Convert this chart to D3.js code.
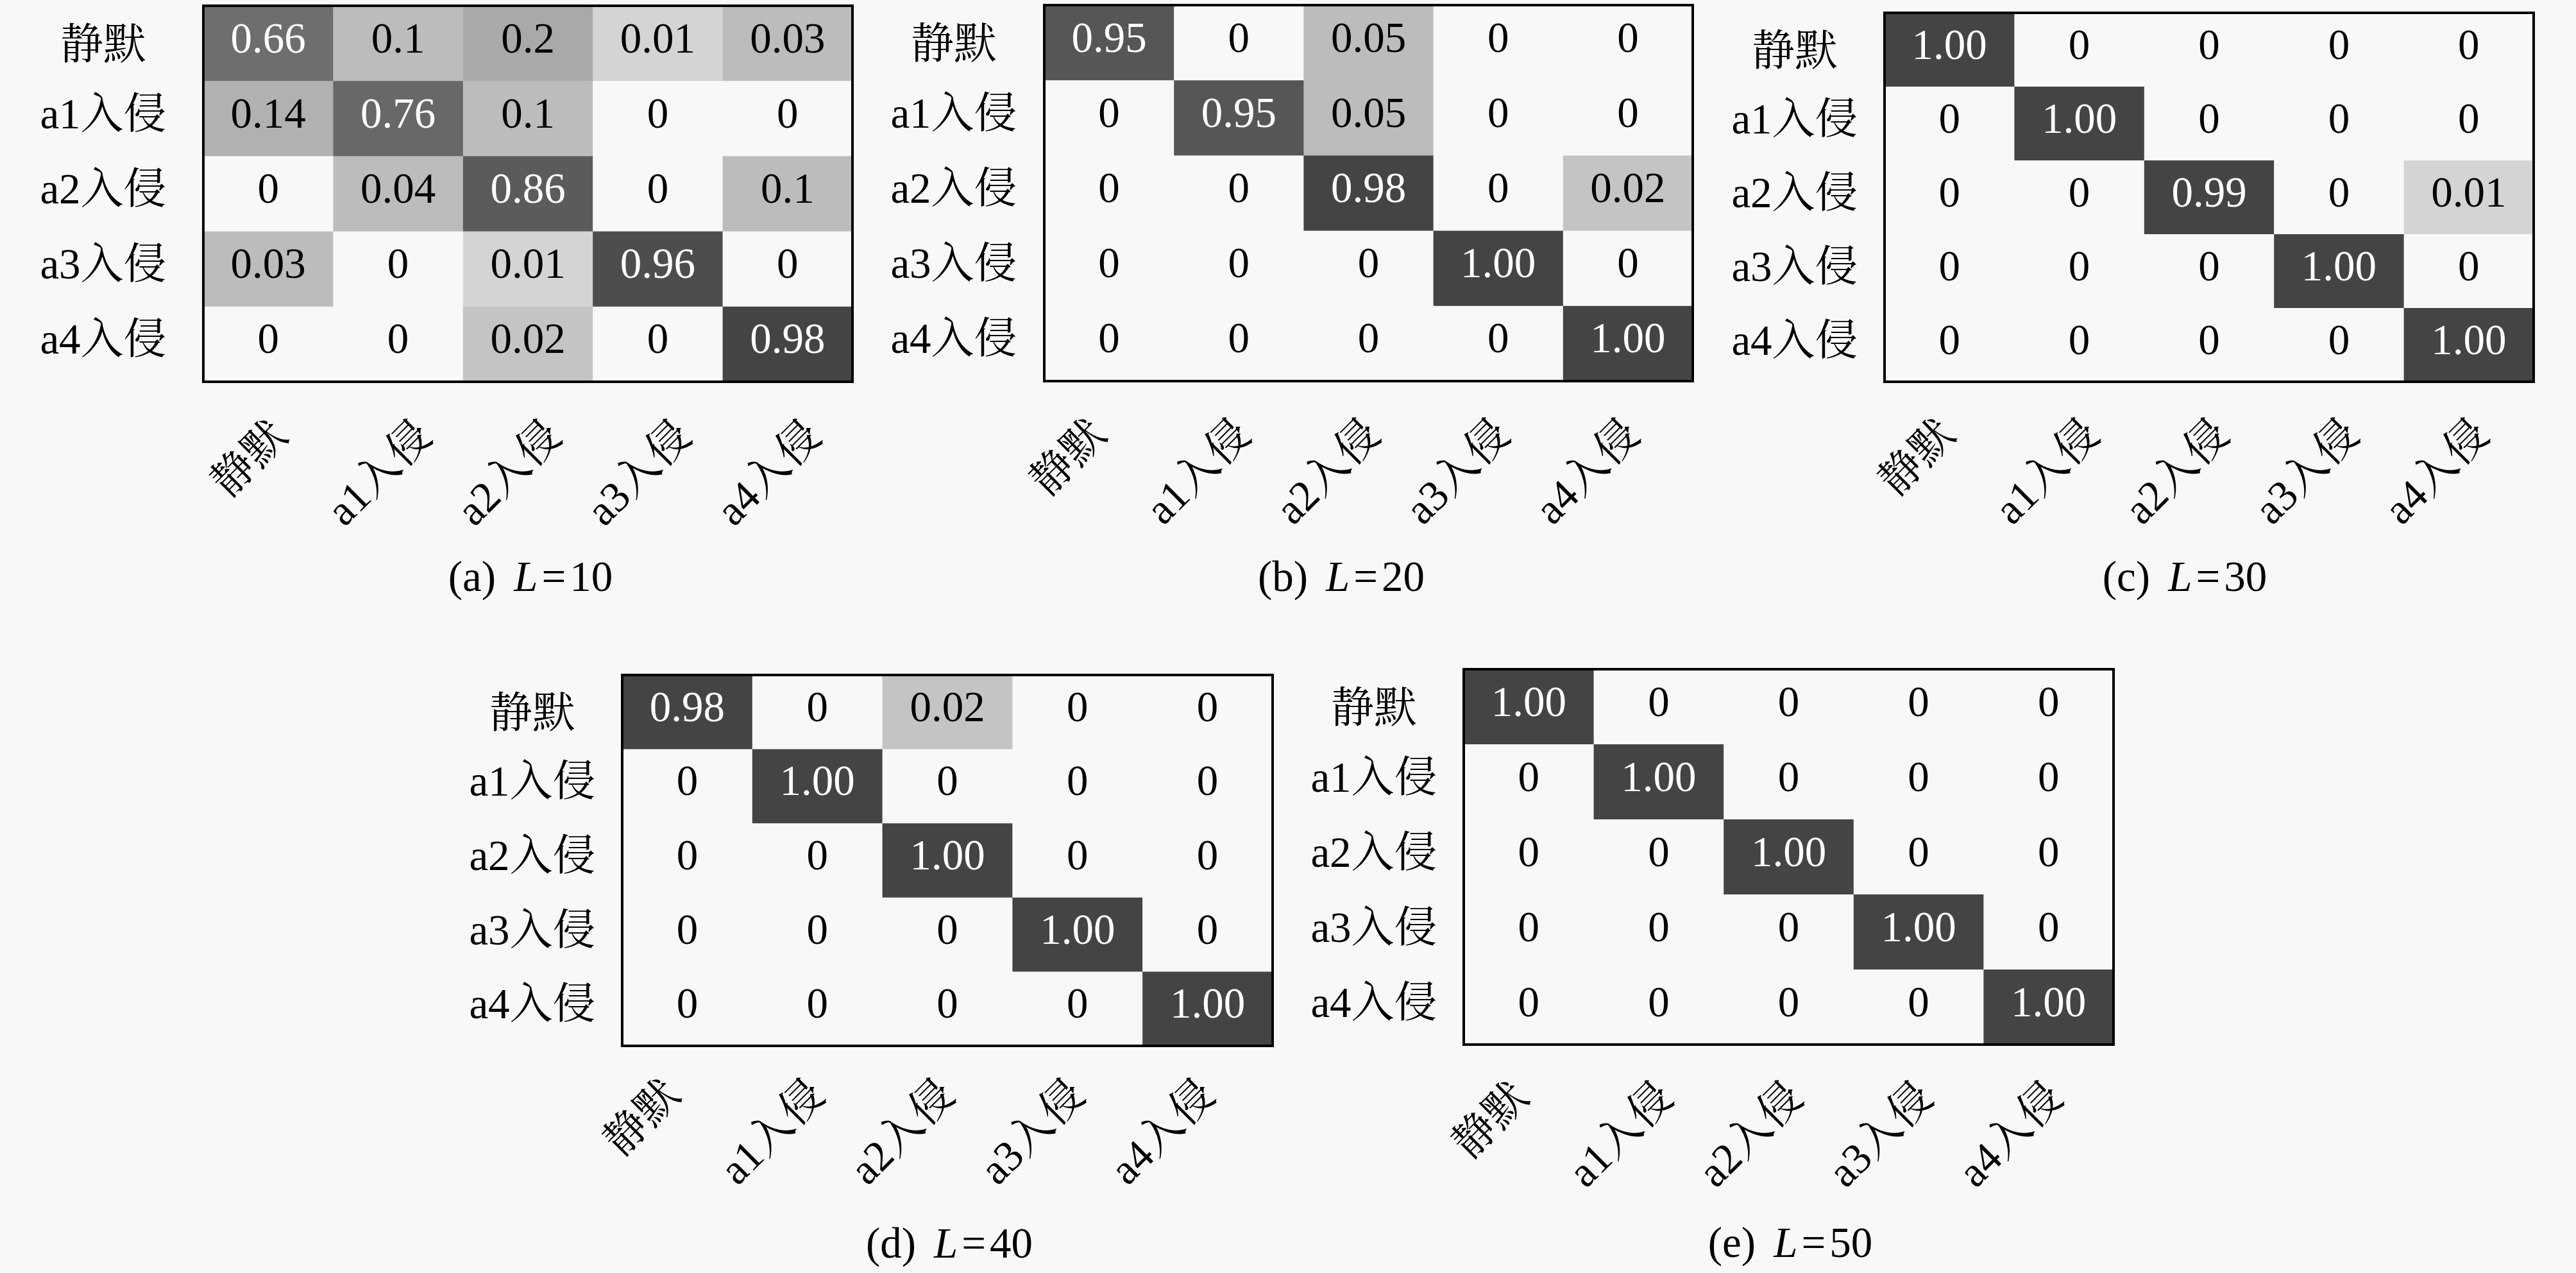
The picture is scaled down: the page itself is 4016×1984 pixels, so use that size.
<!DOCTYPE html>
<html>
<head>
<meta charset="utf-8">
<script src="https://cdn.jsdelivr.net/npm/d3@7/dist/d3.min.js"></script>
<style>
  html, body { margin: 0; padding: 0; background: #f8f8f8; }
  svg { display: block; }
</style>
</head>
<body>
<svg id="chart" width="4016" height="1984"></svg>
<script>
// ---------------- data ----------------
const classes = ["静默", "a1入侵", "a2入侵", "a3入侵", "a4入侵"];
const panelLetters = ["a", "b", "c", "d", "e"];
const panelL = [10, 20, 30, 40, 50];

const matL10 = [
  [0.66, 0.1, 0.2, 0.01, 0.03],
  [0.14, 0.76, 0.1, 0, 0],
  [0, 0.04, 0.86, 0, 0.1],
  [0.03, 0, 0.01, 0.96, 0],
  [0, 0, 0.02, 0, 0.98]
];
const matL20 = [
  [0.95, 0, 0.05, 0, 0],
  [0, 0.95, 0.05, 0, 0],
  [0, 0, 0.98, 0, 0.02],
  [0, 0, 0, 1.00, 0],
  [0, 0, 0, 0, 1.00]
];
const matL30 = [
  [1.00, 0, 0, 0, 0],
  [0, 1.00, 0, 0, 0],
  [0, 0, 0.99, 0, 0.01],
  [0, 0, 0, 1.00, 0],
  [0, 0, 0, 0, 1.00]
];
const matL40 = [
  [0.98, 0, 0.02, 0, 0],
  [0, 1.00, 0, 0, 0],
  [0, 0, 1.00, 0, 0],
  [0, 0, 0, 1.00, 0],
  [0, 0, 0, 0, 1.00]
];
const matL50 = [
  [1.00, 0, 0, 0, 0],
  [0, 1.00, 0, 0, 0],
  [0, 0, 1.00, 0, 0],
  [0, 0, 0, 1.00, 0],
  [0, 0, 0, 0, 1.00]
];
const matrices = [matL10, matL20, matL30, matL40, matL50];
// panel (a) prints trimmed decimals ("0.1"), the others fixed two decimals ("1.00")
const trimmedFormat = [true, false, false, false, false];

// ---------------- styles / layout ----------------
const shadeDomain = [0, 0.01, 0.02, 0.03, 0.1, 0.14, 0.2, 0.66, 0.76, 0.86, 0.95, 0.97, 1.0];
const shadeRange  = [248, 212, 196, 188, 188, 177, 169, 110, 104, 91, 86, 68, 68];
const gray = d3.scaleLinear().domain(shadeDomain).range(shadeRange).clamp(true);
const fillOf = v => { const g = Math.round(gray(v)); return `rgb(${g},${g},${g})`; };

const layout = [
  {x: 317,  y: 9,    w: 1012, h: 586, ylx: 161,  xOff: 56, xDy: 88, capX: 827,  capY: 921},
  {x: 1628, y: 8,    w: 1011, h: 586, ylx: 1487, xOff: 22, xDy: 87, capX: 2091, capY: 921},
  {x: 2938, y: 20,   w: 1012, h: 575, ylx: 2798, xOff: 35, xDy: 86, capX: 3406, capY: 921},
  {x: 970,  y: 1052, w: 1014, h: 578, ylx: 830,  xOff: 15, xDy: 80, capX: 1480, capY: 1960},
  {x: 2282, y: 1043, w: 1013, h: 585, ylx: 2142, xOff: 26, xDy: 86, capX: 2791, capY: 1959}
];

const FONT = "'Liberation Serif', 'Times New Roman', 'Noto Serif CJK SC', 'Noto Sans CJK SC', serif";
const FS = 67;
const hasLatin = s => /[A-Za-z0-9]/.test(s);

const svg = d3.select("#chart");
svg.append("rect").attr("width", 4016).attr("height", 1984).attr("fill", "#f8f8f8");

matrices.forEach((mat, p) => {
  const L = layout[p];
  const g = svg.append("g");
  const xs = d3.scaleBand().domain(classes).range([L.x, L.x + L.w]);
  const ys = d3.scaleBand().domain(classes).range([L.y, L.y + L.h]);
  const fmt = trimmedFormat[p] ? d3.format(".2~f") : d3.format(".2f");
  const label = v => v === 0 ? "0" : fmt(v);

  const cells = [];
  mat.forEach((row, i) => row.forEach((v, j) => cells.push({r: classes[i], c: classes[j], v})));

  g.selectAll("rect.cell").data(cells).join("rect")
    .attr("class", "cell")
    .attr("x", d => xs(d.c))
    .attr("y", d => ys(d.r))
    .attr("width", xs.bandwidth() + 0.5)
    .attr("height", ys.bandwidth() + 0.5)
    .attr("fill", d => fillOf(d.v));

  g.selectAll("text.val").data(cells).join("text")
    .attr("class", "val")
    .attr("x", d => xs(d.c) + xs.bandwidth() / 2)
    .attr("y", d => ys(d.r) + ys.bandwidth() / 2 + 14)
    .attr("text-anchor", "middle")
    .attr("font-family", FONT)
    .attr("font-size", FS)
    .attr("fill", d => d.v > 0.5 ? "#ffffff" : "#000000")
    .text(d => label(d.v));

  // frame
  g.append("rect")
    .attr("x", L.x).attr("y", L.y).attr("width", L.w).attr("height", L.h)
    .attr("fill", "none").attr("stroke", "#000").attr("stroke-width", 4);

  // y tick labels (centered in a column left of the box)
  g.selectAll("text.ylab").data(classes).join("text")
    .attr("class", "ylab")
    .attr("x", L.ylx)
    .attr("y", d => ys(d) + ys.bandwidth() / 2 + (hasLatin(d) ? 15 : 24))
    .attr("text-anchor", "middle")
    .attr("font-family", FONT)
    .attr("font-size", FS)
    .attr("fill", "#000")
    .text(d => d);

  // x tick labels rotated 45 degrees
  const xl = g.selectAll("text.xlab").data(classes).join("text")
    .attr("class", "xlab")
    .attr("text-anchor", "end")
    .attr("font-family", FONT)
    .attr("font-size", FS)
    .attr("fill", "#000")
    .text(d => d);
  const lens = xl.nodes().map(n => n.getComputedTextLength());
  const refLen = lens[1];
  xl.attr("transform", (d, i) => {
    const ax = xs(d) + xs.bandwidth() / 2 + L.xOff - 0.354 * (refLen - lens[i]);
    const ay = L.y + L.h + L.xDy;
    return `translate(${ax},${ay}) rotate(-45)`;
  });

  // caption
  const cap = g.append("text")
    .attr("x", L.capX).attr("y", L.capY)
    .attr("text-anchor", "middle")
    .attr("font-family", FONT)
    .attr("font-size", FS)
    .attr("fill", "#000");
  cap.append("tspan").text(`(${panelLetters[p]})`);
  cap.append("tspan").attr("dx", 28).attr("font-style", "italic").text("L");
  cap.append("tspan").attr("dx", 6).text("=");
  cap.append("tspan").attr("dx", 6).text(String(panelL[p]));
});
</script>
</body>
</html>
